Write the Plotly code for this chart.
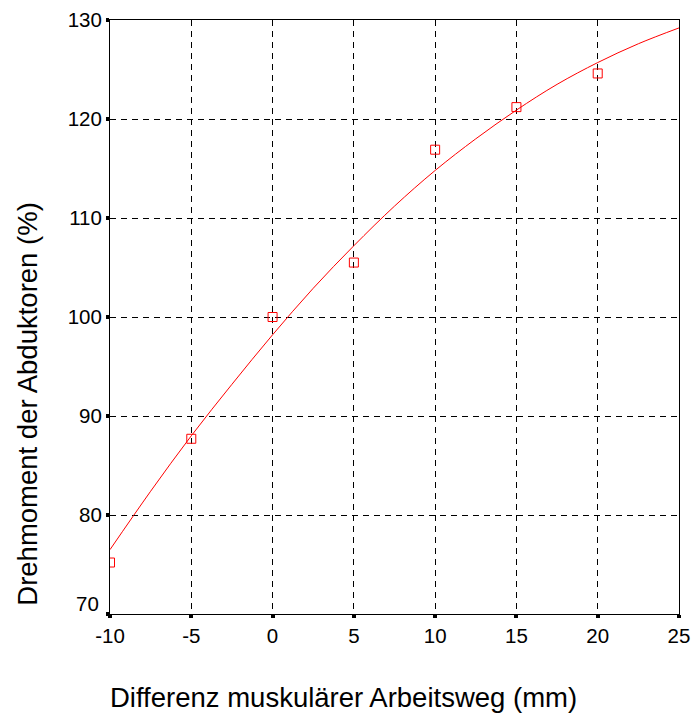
import plotly.graph_objects as go

# Measured data points
x_points = [-10, -5, 0, 5, 10, 15, 20]
y_points = [75.2, 87.7, 100.0, 105.5, 116.9, 121.2, 124.6]

# Fitted curve
x_curve = [-10, -7.5, -5, -2.5, 0, 2.5, 5, 7.5, 10, 12.5, 15, 17.5, 20, 22.5, 25]
y_curve = [76.5, 82.4, 88.0, 93.2, 98.2, 102.9, 107.2, 111.2, 114.8, 118.0, 120.9, 123.5, 125.7, 127.6, 129.2]

x_ticks = [-10, -5, 0, 5, 10, 15, 20, 25]
y_ticks = [70, 80, 90, 100, 110, 120, 130]

x_title = "Differenz muskulärer Arbeitsweg (mm)"
y_title = "Drehmoment der Abduktoren (%)"

RED = "#ff0000"
FONT = "Liberation Sans, Arial, sans-serif"

fig = go.Figure()
fig.add_trace(go.Scatter(
    x=x_curve, y=y_curve, mode="lines",
    line=dict(color=RED, width=1, shape="spline"),
    showlegend=False, hoverinfo="skip",
))
fig.add_trace(go.Scatter(
    x=x_points, y=y_points, mode="markers",
    marker=dict(symbol="square-open", size=9, color=RED, line=dict(width=1, color=RED)),
    showlegend=False,
))

axis_common = dict(
    showline=True, linecolor="black", linewidth=1, mirror=True,
    showgrid=True, gridcolor="black", gridwidth=1, griddash="6px,5px",
    ticks="outside", ticklen=3, tickwidth=4, tickcolor="black",
    zeroline=False, automargin=False,
    tickfont=dict(family=FONT, size=20.5, color="black"),
)

fig.update_xaxes(
    range=[-10, 25], tickvals=x_ticks, ticktext=[str(v) for v in x_ticks],
    **axis_common,
)
# lowest y label is drawn slightly raised in the reference (annotation below)
fig.update_yaxes(
    range=[70, 130], tickvals=y_ticks,
    ticktext=["" if v == y_ticks[0] else str(v) for v in y_ticks],
    **axis_common,
)

fig.add_annotation(
    x=0, xref="paper", y=y_ticks[0], yref="y", text=str(y_ticks[0]),
    showarrow=False, xanchor="right", yanchor="middle", xshift=-9, yshift=11,
    font=dict(family=FONT, size=20.5, color="black"),
)
fig.add_annotation(
    x=0.4095, xref="paper", y=0, yref="paper", text=x_title,
    showarrow=False, xanchor="center", yanchor="middle", yshift=-83,
    font=dict(family=FONT, size=27.5, color="black"),
)
fig.add_annotation(
    x=0, xref="paper", y=0.354, yref="paper", text=y_title, textangle=-90,
    showarrow=False, xanchor="center", yanchor="middle", xshift=-82,
    font=dict(family=FONT, size=27.5, color="black"),
)

fig.update_layout(
    width=691, height=718,
    margin=dict(l=110, r=12, t=20, b=104),
    plot_bgcolor="white", paper_bgcolor="white",
    font=dict(family=FONT, color="black"),
)

# remove the default page margin so the figure fills the window exactly
fig.write_html(
    "out.html",
    config={"displayModeBar": False},
    post_script="document.body.style.margin='0';document.body.style.overflow='hidden';",
)
